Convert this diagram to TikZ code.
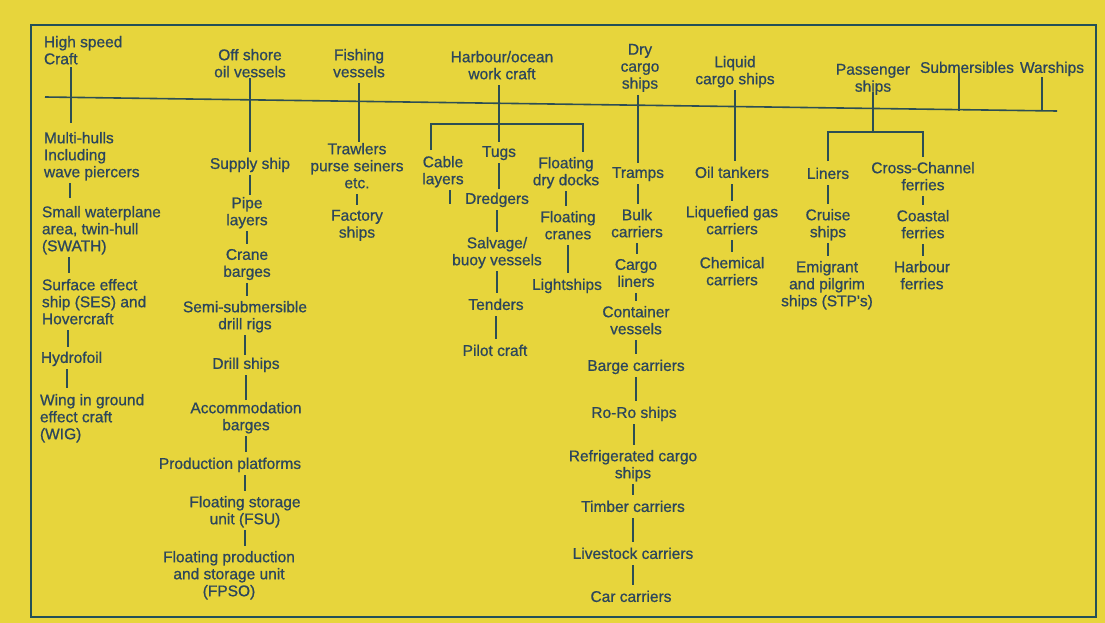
\documentclass[tikz,border=0pt]{standalone}
\usepackage{fontspec}
\setmainfont{Liberation Sans}
\newfontfamily\lblfont{Liberation Sans}[FakeBold=0.8]
\definecolor{bg}{RGB}{231,213,60}
\definecolor{txt}{RGB}{44,70,92}
\definecolor{ln}{RGB}{45,78,84}
\definecolor{frm}{RGB}{35,80,88}
\tikzset{
  lbl/.style={font=\lblfont\fontsize{15.5}{17}\selectfont, text=txt, inner sep=0pt, outer sep=0pt,
    align=center, anchor=north, execute at begin node=\strut, execute at end node=\strut},
  lbll/.style={lbl, align=left, anchor=north west},
  conn/.style={draw=ln, line width=1.4pt, shorten <=1pt, shorten >=5pt},
  mainline/.style={draw=ln, line width=1.6pt},
  framebox/.style={draw=frm, line width=2pt},
}
\begin{document}
\begin{tikzpicture}[x=1pt, y=-1pt]
\fill[bg] (0,0) rectangle (1105,623);
\useasboundingbox (0,0) rectangle (1105,623);
\draw[framebox] (31,25) rectangle (1096,617);

% headers
\node[lbll] (hsc) at (44,36) {High speed\\Craft};
\node[lbl] (off) at (250,49) {Off shore\\oil vessels};
\node[lbl] (fish) at (359,49) {Fishing\\vessels};
\node[lbl] (harb) at (502,51) {Harbour/ocean\\work craft};
\node[lbl] (dry) at (640,44) {Dry\\cargo\\ships};
\node[lbl] (liq) at (735,56) {Liquid\\cargo ships};
\node[lbl] (pass) at (873,64) {Passenger\\ships};
\node[lbl] (sub) at (967,61) {Submersibles};
\node[lbl] (war) at (1052,61) {Warships};

\coordinate (ml1) at (45,97);
\coordinate (ml2) at (1057,111);
\draw[mainline] (ml1) -- (ml2);

% column 1
\node[lbll] (mh) at (44,132) {Multi-hulls\\Including\\wave piercers};
\node[lbll] (sw) at (42,206) {Small waterplane\\area, twin-hull\\(SWATH)};
\node[lbll] (ses) at (42,279) {Surface effect\\ship (SES) and\\Hovercraft};
\node[lbll] (hyd) at (41,351) {Hydrofoil};
\node[lbll] (wig) at (40,394) {Wing in ground\\effect craft\\(WIG)};

% column 2
\node[lbl] (supply) at (250,157) {Supply ship};
\node[lbl] (pipe) at (247,197) {Pipe\\layers};
\node[lbl] (crane) at (247,249) {Crane\\barges};
\node[lbl] (semi) at (245,301) {Semi-submersible\\drill rigs};
\node[lbl] (drill) at (246,357) {Drill ships};
\node[lbl] (acc) at (246,402) {Accommodation\\barges};
\node[lbl] (prod) at (230,457) {Production platforms};
\node[lbl] (fsu) at (245,496) {Floating storage\\unit (FSU)};
\node[lbl] (fpso) at (229,551) {Floating production\\and storage unit\\(FPSO)};

% column 3
\node[lbl] (trawl) at (357,143) {Trawlers\\purse seiners\\etc.};
\node[lbl] (factory) at (357,210) {Factory\\ships};

% column 4
\node[lbl] (cable) at (443,156) {Cable\\layers};
\node[lbl] (tugs) at (499,145) {Tugs};
\node[lbl] (dredg) at (497,192) {Dredgers};
\node[lbl] (salv) at (497,237) {Salvage/\\buoy vessels};
\node[lbl] (tend) at (496,298) {Tenders};
\node[lbl] (pilot) at (495,344) {Pilot craft};
\node[lbl] (fdd) at (566,157) {Floating\\dry docks};
\node[lbl] (fcr) at (568,211) {Floating\\cranes};
\node[lbl] (light) at (567,278) {Lightships};

% column 5
\node[lbl] (tramps) at (638,166) {Tramps};
\node[lbl] (bulk) at (637,209) {Bulk\\carriers};
\node[lbl] (cargo) at (636,259) {Cargo\\liners};
\node[lbl] (cont) at (636,306) {Container\\vessels};
\node[lbl] (barge) at (636,359) {Barge carriers};
\node[lbl] (roro) at (634,406) {Ro-Ro ships};
\node[lbl] (refr) at (633,450) {Refrigerated cargo\\ships};
\node[lbl] (timber) at (633,500) {Timber carriers};
\node[lbl] (live) at (633,547) {Livestock carriers};
\node[lbl] (car) at (631,590) {Car carriers};

% column 6
\node[lbl] (oil) at (732,166) {Oil tankers};
\node[lbl] (lng) at (732,206) {Liquefied gas\\carriers};
\node[lbl] (chem) at (732,257) {Chemical\\carriers};

% column 7
\node[lbl] (liners) at (828,167) {Liners};
\node[lbl] (cruise) at (828,209) {Cruise\\ships};
\node[lbl] (emig) at (827,261) {Emigrant\\and pilgrim\\ships (STP's)};
\node[lbl] (cross) at (923,162) {Cross-Channel\\ferries};
\node[lbl] (coast) at (923,210) {Coastal\\ferries};
\node[lbl] (harbf) at (922,261) {Harbour\\ferries};

% connectors column 1
\draw[conn, shorten <=-2pt, shorten >=9pt] ([xshift=27pt]hsc.south west) -- ([xshift=27pt]hsc.south west |- mh.north);
\draw[conn, shorten >=8pt] ([xshift=26pt]mh.south west) -- ([xshift=26pt]mh.south west |- sw.north);
\draw[conn, shorten >=6pt] ([xshift=27pt]sw.south west) -- ([xshift=27pt]sw.south west |- ses.north);
\draw[conn, shorten >=4pt] ([xshift=26pt]ses.south west) -- ([xshift=26pt]ses.south west |- hyd.north);
\draw[conn, shorten >=6pt] ([xshift=26pt]hyd.south west) -- ([xshift=26pt]hyd.south west |- wig.north);

% connectors column 2
\draw[conn, shorten <=-4pt] (off.south) -- (off.south |- supply.north);
\draw[conn, shorten >=2pt] (supply.south) -- (supply.south |- pipe.north);
\draw[conn] (pipe.south) -- (pipe.south |- crane.north);
\draw[conn] (crane.south) -- (crane.south |- semi.north);
\draw[conn, shorten >=2pt] (semi.south) -- (semi.south |- drill.north);
\draw[conn, shorten >=2pt] (drill.south) -- (drill.south |- acc.north);
\draw[conn] (acc.south) -- (acc.south |- prod.north);
\draw[conn] (fsu.north |- prod.south) -- (fsu.north);
\draw[conn] (fsu.south) -- (fsu.south |- fpso.north);

% connectors column 3
\draw[conn, shorten >=1pt] (fish.south) -- (fish.south |- trawl.north);
\draw[conn] (trawl.south) -- (trawl.south |- factory.north);

% connectors column 4
\coordinate (hb) at (499,124);
\draw[conn, shorten >=3pt] (tugs.north |- harb.south) -- (tugs.north);
\draw[conn, shorten <=6pt] ([xshift=-12pt]cable.north) |- (hb) -| ([xshift=17pt]fdd.north);
\draw[conn, shorten >=0pt] ([xshift=7pt]cable.south) -- ++(0,15);
\draw[conn, shorten >=3pt] (tugs.south) -- (tugs.south |- dredg.north);
\draw[conn] (dredg.south) -- (dredg.south |- salv.north);
\draw[conn] (salv.south) -- (salv.south |- tend.north);
\draw[conn] (tend.south) -- (tend.south |- pilot.north);
\draw[conn] (fdd.south) -- (fdd.south |- fcr.north);
\draw[conn] (fcr.south) -- (fcr.south |- light.north);

% connectors column 5
\draw[conn, shorten >=3pt] (tramps.north |- dry.south) -- (tramps.north);
\draw[conn] (tramps.south) -- (tramps.south |- bulk.north);
\draw[conn] (bulk.south) -- (bulk.south |- cargo.north);
\draw[conn] (cargo.south) -- (cargo.south |- cont.north);
\draw[conn] (cont.south) -- (cont.south |- barge.north);
\draw[conn] (barge.south) -- (barge.south |- roro.north);
\draw[conn] (roro.south) -- (roro.south |- refr.north);
\draw[conn] (refr.south) -- (refr.south |- timber.north);
\draw[conn] (timber.south) -- (timber.south |- live.north);
\draw[conn] (live.south) -- (live.south |- car.north);

% connectors column 6
\draw[conn] (liq.south) -- (liq.south |- oil.north);
\draw[conn] (oil.south) -- (oil.south |- lng.north);
\draw[conn] (lng.south) -- (lng.south |- chem.north);

% connectors column 7
\coordinate (pb) at (873,132);
\draw[conn, shorten <=-5pt, shorten >=0pt] (pass.south) -- (pb);
\draw[conn, shorten <=6pt] (liners.north) |- (pb) -| (cross.north);
\draw[conn] (liners.south) -- (liners.south |- cruise.north);
\draw[conn] (cruise.south) -- (cruise.south |- emig.north);
\draw[conn] (cross.south) -- (cross.south |- coast.north);
\draw[conn] (coast.south) -- (coast.south |- harbf.north);

% submersibles and warships
\draw[conn, shorten <=-5pt, shorten >=0pt] ([xshift=-8pt]sub.south) -- ([xshift=-8pt]sub.south |- ml2);
\draw[conn, shorten <=-1pt, shorten >=0pt] ([xshift=-10pt]war.south) -- ([xshift=-10pt]war.south |- ml2);
\end{tikzpicture}
\end{document}
